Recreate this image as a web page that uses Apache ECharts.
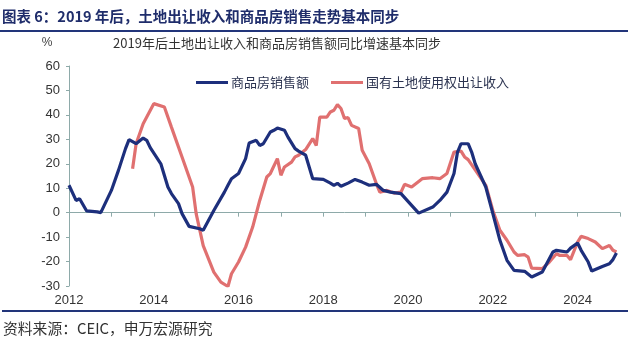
<!DOCTYPE html>
<html>
<head>
<meta charset="utf-8">
<script src="https://cdn.jsdelivr.net/npm/echarts@6/dist/echarts.min.js"></script>
<style>
  html, body { margin: 0; padding: 0; background: #fff; }
  #chart { width: 628px; height: 343px; }
</style>
</head>
<body>
<div id="chart"></div>
<script>
// 商品房销售额累计同比 (%)
const salesMonths = ['2012-01','2012-03','2012-04','2012-06','2012-09','2012-10','2013-01','2013-03','2013-05','2013-06','2013-08','2013-10','2013-11','2013-12','2014-03','2014-05','2014-06','2014-08','2014-09','2014-11','2015-02','2015-03','2015-06','2015-09','2015-10','2015-11','2016-01','2016-03','2016-04','2016-06','2016-07','2016-08','2016-10','2016-11','2016-12','2017-02','2017-03','2017-05','2017-06','2017-08','2017-09','2017-10','2018-01','2018-03','2018-04','2018-05','2018-06','2018-08','2018-10','2018-12','2019-02','2019-04','2019-06','2019-08','2019-11','2020-02','2020-04','2020-08','2020-10','2020-12','2021-02','2021-03','2021-04','2021-06','2021-07','2021-08','2021-11','2022-01','2022-03','2022-05','2022-07','2022-10','2022-12','2023-03','2023-06','2023-07','2023-10','2023-11','2024-01','2024-02','2024-04','2024-05','2024-08','2024-10','2024-11','2024-12'];
const salesValues = [11.2,5.0,5.7,0.7,0.3,0.0,9.1,17.3,26.2,29.9,28.2,30.5,29.6,26.6,20.0,10.5,7.8,3.7,-0.4,-5.6,-6.6,-7.2,0.9,8.4,11.2,13.9,16.0,22.1,28.5,29.6,27.5,28.2,33.0,33.7,34.6,33.7,30.9,26.2,25.2,23.5,18.7,13.9,13.6,12.1,11.2,12.0,10.8,12.1,13.6,12.5,11.2,11.6,9.1,8.4,7.8,3.0,-0.2,2.3,5.0,8.4,16.0,24.8,28.2,28.2,24.8,20.0,10.5,-0.4,-11.3,-19.5,-23.6,-24.0,-26.3,-24.3,-16.1,-15.4,-16.1,-14.5,-12.4,-15.4,-20.2,-23.9,-22.0,-20.9,-19.2,-16.5];

// 国有土地使用权出让收入累计同比 (%)
const landMonths = ['2013-07','2013-08','2013-10','2014-01','2014-04','2014-06','2014-09','2014-12','2015-01','2015-03','2015-06','2015-08','2015-10','2015-11','2016-01','2016-03','2016-05','2016-07','2016-09','2016-10','2016-12','2017-01','2017-02','2017-04','2017-05','2017-06','2017-08','2017-10','2017-11','2017-12','2018-02','2018-03','2018-04','2018-05','2018-06','2018-07','2018-08','2018-09','2018-11','2018-12','2019-02','2019-04','2019-05','2019-07','2019-09','2019-11','2019-12','2020-02','2020-05','2020-08','2020-10','2020-12','2021-02','2021-04','2021-05','2021-06','2021-08','2021-11','2022-01','2022-03','2022-05','2022-07','2022-08','2022-10','2022-11','2022-12','2023-03','2023-05','2023-07','2023-08','2023-10','2023-11','2024-01','2024-02','2024-04','2024-06','2024-08','2024-10','2024-11','2024-12'];
const landValues = [18.0,28.2,36.4,44.6,43.2,35.0,22.8,10.5,-0.4,-13.5,-24.3,-28.4,-30.2,-25.0,-20.2,-14.1,-5.9,5.0,14.6,16.0,22.1,15.3,18.7,20.7,22.8,23.5,25.8,30.3,27.5,39.1,39.1,41.2,41.9,44.2,42.6,38.5,38.9,35.7,34.4,25.5,20.0,11.9,8.4,9.1,8.0,8.4,11.6,10.5,13.9,14.3,13.9,16.0,24.8,25.2,22.8,21.7,17.5,11.2,0.9,-7.2,-11.3,-16.1,-17.5,-17.2,-18.2,-22.7,-22.9,-20.2,-16.8,-17.5,-17.5,-19.2,-12.0,-9.7,-10.6,-12.0,-14.7,-13.4,-15.4,-16.1];

const seriesNames = ['商品房销售额', '国有土地使用权出让收入'];
const yearMin = 2012, yearMax = 2025;
const yMin = -30, yMax = 60, yStep = 10;

const title = '图表 6：2019 年后，土地出让收入和商品房销售走势基本同步';
const subtitle = '2019年后土地出让收入和商品房销售额同比增速基本同步';
const sourceNote = '资料来源：CEIC，申万宏源研究';

// month string -> fractional year on the value axis
function monthToYear(m) {
  const [y, mo] = m.split('-').map(Number);
  return y + (mo - 1) / 12;
}
const pairs = (months, values) => months.map((m, i) => [monthToYear(m), values[i]]);

const NAVY = '#1d2f7c';
const RED = '#e07070';
const AXIS = '#8eaaa9';
const FONT = '"Liberation Sans", "Noto Sans CJK SC", sans-serif';
const CJK = '"Noto Sans CJK SC", "Liberation Sans", sans-serif';

const chart = echarts.init(document.getElementById('chart'), null, { renderer: 'canvas' });

chart.setOption({
  animation: false,
  backgroundColor: '#fff',
  textStyle: { fontFamily: FONT },
  grid: { left: 69, right: 8, top: 66, bottom: 57, containLabel: false },
  legend: {
    data: seriesNames,
    left: 191,
    top: 71,
    icon: 'rect',
    itemWidth: 32,
    itemHeight: 3,
    itemGap: 22,
    textStyle: { fontFamily: CJK, fontSize: 13, color: '#2b3350', padding: [0, 0, 0, -2] }
  },
  xAxis: [
    {
      type: 'value',
      min: yearMin,
      max: yearMax,
      interval: 1,
      position: 'bottom',
      axisLine: { show: false, onZero: false },
      axisTick: { show: false },
      splitLine: { show: false },
      axisLabel: {
        margin: 8,
        fontSize: 13,
        color: '#333',
        formatter: v => (v % 2 === 0 ? String(v) : '')
      }
    },
    {
      // zero line with yearly ticks
      type: 'value',
      min: yearMin,
      max: yearMax,
      interval: 1,
      position: 'bottom',
      axisLine: { show: true, onZero: true, onZeroAxisIndex: 0, lineStyle: { color: AXIS, width: 1 } },
      axisTick: { show: true, length: 4, lineStyle: { color: AXIS } },
      axisLabel: { show: false },
      splitLine: { show: false }
    }
  ],
  yAxis: {
    type: 'value',
    min: yMin,
    max: yMax,
    interval: yStep,
    axisLine: { show: true, onZero: false, lineStyle: { color: AXIS, width: 1 } },
    axisTick: { show: true, length: 3, lineStyle: { color: AXIS } },
    splitLine: { show: false },
    axisLabel: { margin: 9, fontSize: 13, color: '#333' }
  },
  series: [
    {
      name: seriesNames[0],
      type: 'line',
      xAxisIndex: 0,
      data: pairs(salesMonths, salesValues),
      showSymbol: false,
      symbol: 'none',
      lineStyle: { color: NAVY, width: 3.2 },
      itemStyle: { color: NAVY },
      z: 3
    },
    {
      name: seriesNames[1],
      type: 'line',
      xAxisIndex: 0,
      data: pairs(landMonths, landValues),
      showSymbol: false,
      symbol: 'none',
      lineStyle: { color: RED, width: 3.2 },
      itemStyle: { color: RED },
      z: 2
    }
  ],
  graphic: [
    {
      type: 'text', left: 2, top: 9,
      style: { text: title, fontFamily: CJK, fontSize: 14.5, fontWeight: 'bold', fill: '#1f2d6b' }
    },
    {
      type: 'rect', left: 0, top: 30,
      shape: { width: 628, height: 2 },
      style: { fill: '#22357a' }
    },
    {
      type: 'text', x: 277, y: 43,
      style: { text: subtitle, fontFamily: CJK, fontSize: 13, fill: '#333', align: 'center', verticalAlign: 'middle' }
    },
    {
      type: 'text', x: 47, y: 43,
      style: { text: '%', fontFamily: FONT, fontSize: 12, fill: '#444', align: 'center', verticalAlign: 'middle' }
    },
    {
      type: 'rect', left: 2, top: 310,
      shape: { width: 626, height: 2 },
      style: { fill: '#22357a' }
    },
    {
      type: 'text', x: 3, y: 328,
      style: { text: sourceNote, fontFamily: CJK, fontSize: 14.8, fill: '#333', verticalAlign: 'middle' }
    }
  ]
});
</script>
</body>
</html>
